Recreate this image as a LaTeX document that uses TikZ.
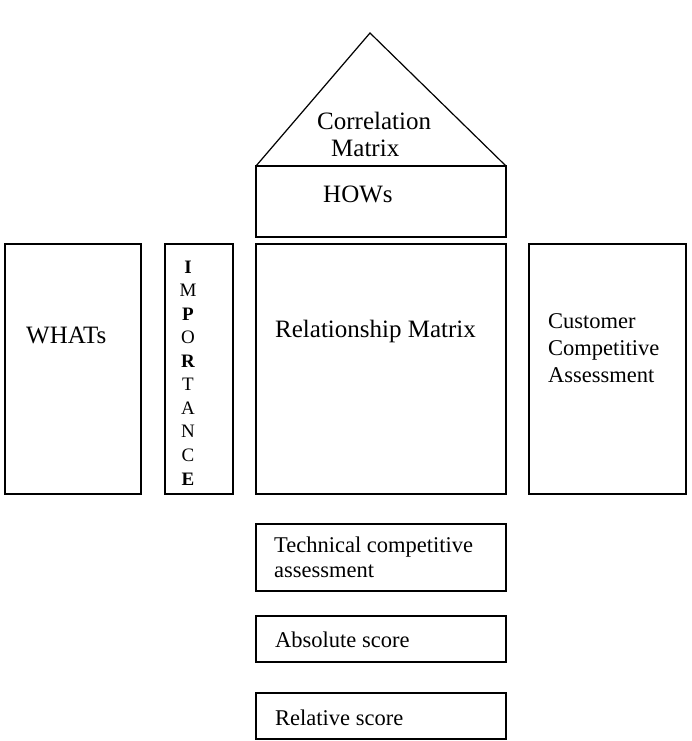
\documentclass[tikz,border=0pt]{standalone}
\usepackage{fontspec}
\setmainfont{Liberation Serif}
\begin{document}
\begin{tikzpicture}[x=1pt,y=-1pt,
  box/.style={draw,line width=1.6pt,inner sep=0pt,outer sep=0pt},
  txt/.style={inner sep=0pt,anchor=base west,font=\fontsize{22.5}{26}\selectfont},
  big/.style={txt,font=\fontsize{25}{28}\selectfont},
  let/.style={inner sep=0pt,anchor=base,font=\fontsize{19}{21}\selectfont}]
\useasboundingbox (0,0) rectangle (692,741);
% boxes
\node[box,minimum width=250pt,minimum height=71pt] (hows) at (381,201.5) {};
\node[box,minimum width=136pt,minimum height=250pt] (whats) at (73,369) {};
\node[box,minimum width=68pt,minimum height=250pt] (imp) at (199,369) {};
\node[box,minimum width=250pt,minimum height=250pt] (rel) at (381,369) {};
\node[box,minimum width=157pt,minimum height=250pt] (cca) at (607.5,369) {};
\node[box,minimum width=250pt,minimum height=67pt] (tca) at (381,557.5) {};
\node[box,minimum width=250pt,minimum height=46pt] (abs) at (381,639) {};
\node[box,minimum width=250pt,minimum height=46pt] (rsc) at (381,716) {};
% roof
\coordinate (apex) at (370,33);
\draw[line width=1.2pt,line join=miter] (hows.north west) -- (apex) -- (hows.north east);
% texts
\node[big] (t1) at (317,130) {Correlation};
\node[big] (t2) at (331,157) {Matrix};
\node[big] (t3) at (323,202) {HOWs};
\node[big] (t4) at (26,343) {WHATs};
\node[big] (t5) at (275,337) {Relationship Matrix};
\node[txt] (t6) at (548,328) {Customer};
\node[txt] (t7) at (548,355) {Competitive};
\node[txt] (t8) at (548,382) {Assessment};
\node[txt] (t9) at (274,552) {Technical competitive};
\node[txt] (t10) at (274,577) {assessment};
\node[txt] (t11) at (275,647) {Absolute score};
\node[txt] (t12) at (275,725) {Relative score};
% IMPORTANCE
\node[let] (l1) at (188,273.0) {\bfseries I};
\node[let] (l2) at (188,296.6) {M};
\node[let] (l3) at (188,320.1) {\bfseries P};
\node[let] (l4) at (188,343.7) {O};
\node[let] (l5) at (188,367.2) {\bfseries R};
\node[let] (l6) at (188,390.8) {T};
\node[let] (l7) at (188,414.3) {A};
\node[let] (l8) at (188,437.9) {N};
\node[let] (l9) at (188,461.4) {C};
\node[let] (l10) at (188,485.0) {\bfseries E};
\end{tikzpicture}
\end{document}
